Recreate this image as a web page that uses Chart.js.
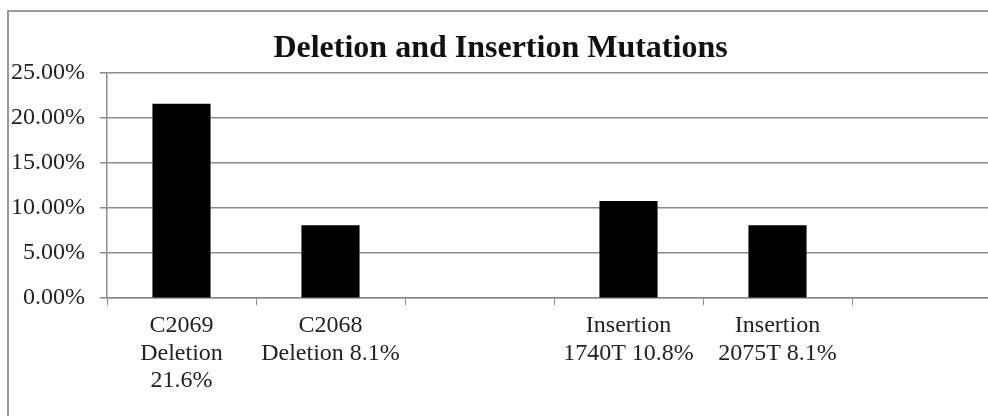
<!DOCTYPE html>
<html>
<head>
<meta charset="utf-8">
<script src="https://cdn.jsdelivr.net/npm/chart.js@4.4.1/dist/chart.umd.min.js"></script>
<style>
    html, body { margin: 0; padding: 0; background: #fff; }
    body { width: 988px; height: 416px; overflow: hidden; position: relative; }
    #frame {
        position: absolute; left: 7px; top: 10px; width: 1200px; height: 600px;
        border-left: 2px solid #999; border-top: 2px solid #999;
    }
    #chart { position: absolute; left: 0; top: 0; }
</style>
</head>
<body>
<div id="frame"></div>
<canvas id="chart" width="1001" height="416"></canvas>
<script>
    const chartTitle = 'Deletion and Insertion Mutations';
    const categories = [
        ['C2069', 'Deletion', '21.6%'],
        ['C2068', 'Deletion 8.1%'],
        '',
        ['Insertion', '1740T 10.8%'],
        ['Insertion', '2075T 8.1%'],
        ''
    ];
    const mutationPercent = [21.6, 8.1, null, 10.8, 8.1, null];
    const yTicks = [0, 5, 10, 15, 20, 25];

    const serif = "'Liberation Serif', 'DejaVu Serif', serif";
    const gridGray = '#8c8c8c';

    const ctx = document.getElementById('chart').getContext('2d');
    new Chart(ctx, {
        type: 'bar',
        data: {
            labels: categories,
            datasets: [{
                label: 'Mutations',
                data: mutationPercent,
                backgroundColor: '#000',
                borderWidth: 0,
                categoryPercentage: 1,
                barPercentage: 0.39
            }]
        },
        options: {
            responsive: false,
            animation: false,
            layout: { padding: { left: 0, right: 0, top: 0, bottom: 14 } },
            plugins: {
                legend: { display: false },
                tooltip: { enabled: false },
                title: {
                    display: true,
                    text: chartTitle,
                    color: '#111',
                    font: { family: serif, size: 32, weight: 'bold', lineHeight: 1.2 },
                    padding: { top: 30, bottom: 4.6 }
                }
            },
            scales: {
                x: {
                    grid: {
                        display: true,
                        drawOnChartArea: false,
                        drawTicks: true,
                        tickLength: 7,
                        color: gridGray,
                        lineWidth: 1
                    },
                    border: { display: true, color: gridGray, width: 1.5 },
                    ticks: {
                        color: '#222',
                        font: { family: serif, size: 24, lineHeight: 1.15 },
                        padding: 7,
                        maxRotation: 0,
                        autoSkip: false
                    }
                },
                y: {
                    min: 0,
                    max: 25,
                    afterFit: function(scale) { scale.width = 107; },
                    afterBuildTicks: function(scale) {
                        scale.ticks = yTicks.map(v => ({ value: v }));
                    },
                    grid: {
                        color: gridGray,
                        lineWidth: 1.5,
                        drawTicks: true,
                        tickLength: 7
                    },
                    border: { display: true, color: gridGray, width: 1.5 },
                    ticks: {
                        color: '#222',
                        font: { family: serif, size: 24 },
                        padding: 15,
                        callback: v => v.toFixed(2) + '%'
                    }
                }
            }
        }
    });
</script>
</body>
</html>
